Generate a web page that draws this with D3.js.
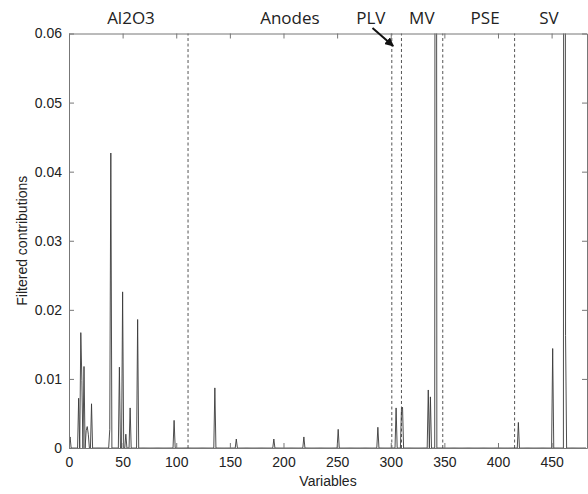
<!DOCTYPE html>
<html><head><meta charset="utf-8">
<script src="https://cdn.jsdelivr.net/npm/d3@7"></script>
<style>body{margin:0;background:#fff}svg{display:block}</style>
</head><body>
<script>
// ---- data ----
const variableCount = 483;
const spikeVariables = [1, 9, 11, 12, 14, 16, 17, 18, 21, 38, 39, 47, 50, 53, 57, 64, 98,
  136, 156, 191, 219, 251, 288,
  305, 310, 311,
  335, 337, 342,
  419,
  451, 462, 463];
const spikeValues = [0.0016, 0.0072, 0.0167, 0.0098, 0.0118, 0.0025, 0.0031, 0.0020, 0.0064, 0.0027, 0.0427, 0.0117, 0.0226, 0.0020, 0.0058, 0.0186, 0.0040,
  0.0087, 0.0013, 0.0013, 0.0016, 0.0027, 0.0030,
  0.0058, 0.0056, 0.0059,
  0.0084, 0.0074, 0.30,
  0.0037,
  0.0144, 0.30, 0.0163];
const xTicks = [0, 50, 100, 150, 200, 250, 300, 350, 400, 450];
const yTicks = [0, 0.01, 0.02, 0.03, 0.04, 0.05, 0.06];
const boundaries = [111, 301, 310, 348.5, 415.5];
const sectionNames = ["Al2O3", "Anodes", "PLV", "MV", "PSE", "SV"];
const sectionCenters = [57.8, 206, 281.5, 329, 388, 447.5];

// ---- layout ----
const W = 588, H = 494;
const m = {left: 69, top: 33.5, right: 1, bottom: 46};
const iw = W - m.left - m.right, ih = H - m.top - m.bottom;

const svg = d3.select("body").append("svg").attr("width", W).attr("height", H);
const x = d3.scaleLinear().domain([0, variableCount]).range([m.left, m.left + iw]);
const y = d3.scaleLinear().domain([0, 0.06]).range([m.top + ih, m.top]);

const series = d3.range(variableCount).map(i => ({x: i, y: 0}));
spikeVariables.forEach((v, k) => { series[v].y = spikeValues[k]; });

svg.append("defs").append("clipPath").attr("id", "clip")
  .append("rect").attr("x", m.left).attr("y", m.top).attr("width", iw).attr("height", ih);

// dashed section boundaries
svg.append("g").selectAll("line").data(boundaries).join("line")
  .attr("x1", d => x(d)).attr("x2", d => x(d))
  .attr("y1", y(0)).attr("y2", y(0.06))
  .attr("stroke", "#555").attr("stroke-width", 1).attr("stroke-dasharray", "3,2.5");

// data line
svg.append("path").datum(series)
  .attr("clip-path", "url(#clip)")
  .attr("fill", "none").attr("stroke", "#3a3a3a").attr("stroke-width", 0.9)
  .attr("d", d3.line().x(d => x(d.x)).y(d => y(d.y)));

// axes (ticks inward, box)
const tickFont = "Liberation Sans, Arial, sans-serif";
const gx = svg.append("g").attr("transform", `translate(0,${y(0)})`)
  .call(d3.axisBottom(x).tickValues(xTicks).tickFormat(d3.format("d")).tickSizeInner(-5).tickSizeOuter(0).tickPadding(9));
const gxt = svg.append("g").attr("transform", `translate(0,${y(0.06)})`)
  .call(d3.axisTop(x).tickValues(xTicks).tickFormat("").tickSizeInner(-5).tickSizeOuter(0));
const gy = svg.append("g").attr("transform", `translate(${x(0)},0)`)
  .call(d3.axisLeft(y).tickValues(yTicks).tickFormat(d => d === 0 ? "0" : d3.format(".2f")(d)).tickSizeInner(-5).tickSizeOuter(0).tickPadding(7));
const gyr = svg.append("g").attr("transform", `translate(${x(variableCount)},0)`)
  .call(d3.axisRight(y).tickValues(yTicks).tickFormat("").tickSizeInner(-5).tickSizeOuter(0));
[gx, gxt, gy, gyr].forEach(g => {
  g.selectAll("path,line").attr("stroke", "#777").attr("stroke-width", 1);
  g.selectAll("text").attr("fill", "#222").style("font-family", tickFont).style("font-size", "14px");
});

// axis titles
svg.append("text").attr("x", (x(0) + x(variableCount)) / 2).attr("y", 486)
  .attr("text-anchor", "middle").style("font-family", tickFont).style("font-size", "14px").attr("fill", "#222")
  .text("Variables");
svg.append("text").attr("transform", `translate(27,${(y(0) + y(0.06)) / 2}) rotate(-90)`)
  .attr("text-anchor", "middle").style("font-family", tickFont).style("font-size", "14px").attr("fill", "#222")
  .text("Filtered contributions");

// section labels
svg.append("g").selectAll("text").data(sectionNames).join("text")
  .attr("x", (d, i) => x(sectionCenters[i])).attr("y", 24)
  .attr("text-anchor", "middle").style("font-family", "Open Sans, sans-serif").style("font-size", "17px").attr("fill", "#222")
  .text(d => d);

// arrow pointing at PLV boundary
svg.append("defs").append("marker").attr("id", "ah").attr("viewBox", "0 0 10 10")
  .attr("refX", 9).attr("refY", 5).attr("markerWidth", 9).attr("markerHeight", 9).attr("orient", "auto")
  .attr("markerUnits", "userSpaceOnUse")
  .append("path").attr("d", "M0,0 L10,5 L0,10 z").attr("fill", "#111");
svg.append("line")
  .attr("x1", x(283)).attr("y1", y(0.0608)).attr("x2", x(302.3)).attr("y2", y(0.0582))
  .attr("stroke", "#111").attr("stroke-width", 2).attr("marker-end", "url(#ah)");
</script>
</body></html>
